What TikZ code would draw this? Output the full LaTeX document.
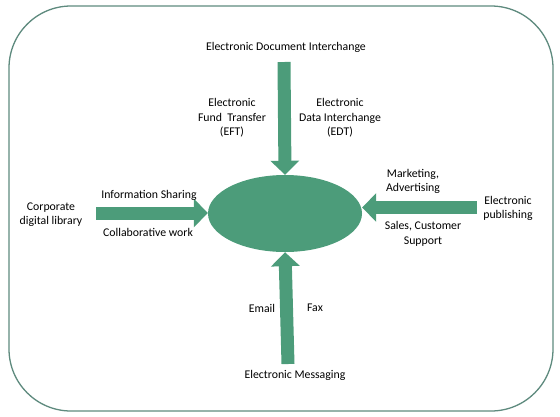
\documentclass[tikz,border=0pt]{standalone}
\usepackage{fontspec}
\setmainfont{Carlito}
\usetikzlibrary{arrows.meta,shapes.geometric}
\definecolor{gfill}{RGB}{76,156,122}
\definecolor{gframe}{RGB}{94,138,126}
\tikzset{
  lbl/.style={font=\fontsize{11.8}{14.5}\selectfont, align=center, inner sep=0pt, text=black},
  blockarrow/.style={draw=gfill, line width=13pt, -{Triangle[width=28pt,length=14pt]}, fill=gfill},
}
\begin{document}
\begin{tikzpicture}[x=1pt,y=-1pt]
\useasboundingbox (0,0) rectangle (560,416);
\draw[gframe, line width=1.3pt, rounded corners=62pt] (9,6) rectangle (553,411);
\node[ellipse, fill=gfill, minimum width=154pt, minimum height=77pt, inner sep=0pt] (hub) at (285,213.5) {};

\coordinate (topstart) at (284,62);
\coordinate (botstart) at (288,364);
\coordinate (leftstart) at (96,213);
\coordinate (rightstart) at (477,207.5);

\draw[blockarrow] (topstart) -- (hub.north);
\draw[blockarrow] (botstart) -- (hub.south);
\draw[blockarrow] (leftstart) -- (leftstart -| hub.west);
\draw[blockarrow] (rightstart) -- (rightstart -| hub.east);

\node[lbl] (edi) at (286,47) {Electronic Document Interchange};
\node[lbl] (eft) at (232,118) {Electronic\\Fund\ \ Transfer\\(EFT)};
\node[lbl] (edt) at (340,118) {Electronic\\Data Interchange\\(EDT)};
\node[lbl] (cdl) at (51,214.5) {Corporate\\digital library};
\node[lbl] (info) at (149,195) {Information Sharing};
\node[lbl] (collab) at (148,232) {Collaborative work};
\node[lbl] (mkt) at (413,181.5) {Marketing,\\Advertising};
\node[lbl] (epub) at (508,208.5) {Electronic\\publishing};
\node[lbl] (sales) at (423,234) {Sales, Customer\\Support};
\node[lbl] (email) at (262,308) {Email};
\node[lbl] (fax) at (315,308) {Fax};
\node[lbl] (emsg) at (295,375) {Electronic Messaging};
\end{tikzpicture}
\end{document}
